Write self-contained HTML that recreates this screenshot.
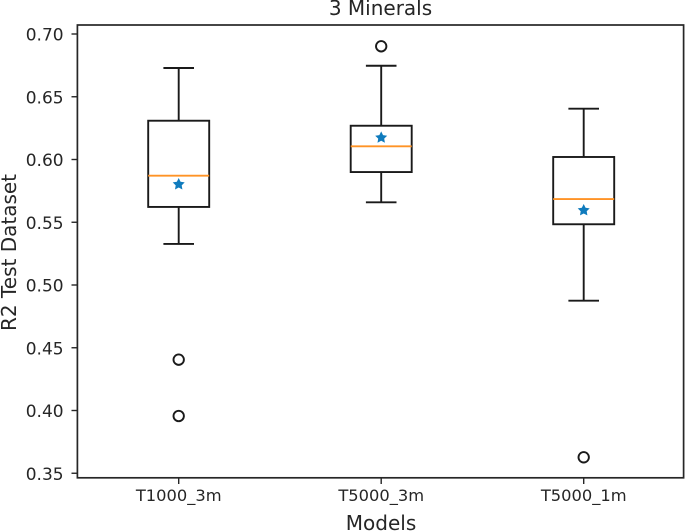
<!DOCTYPE html>
<html>
<head>
<meta charset="utf-8">
<style>
html,body{margin:0;padding:0;background:#fff;width:685px;height:531px;overflow:hidden}
svg{display:block;font-family:"DejaVu Sans","Liberation Sans",sans-serif;fill:#262626;filter:blur(0.35px)}
</style>
</head>
<body>
<svg id="chart" width="685" height="531" viewBox="0 0 685 531" xmlns="http://www.w3.org/2000/svg">
<text x="380.5" y="15" font-size="20" text-anchor="middle">3 Minerals</text>
<text x="381" y="530" font-size="20" text-anchor="middle">Models</text>
<text transform="translate(16 252.5) rotate(-90)" font-size="20" text-anchor="middle">R2 Test Dataset</text>
<g id="marks"></g>
<rect x="77.4" y="25" width="606.2" height="452.8" fill="none" stroke="#262626" stroke-width="1.7"/>
<g id="ticks"></g>
</svg>
<script>
const categories = ['T1000_3m', 'T5000_3m', 'T5000_1m'];
const whiskerLow = [0.5327, 0.5659, 0.4875];
const q1 = [0.5622, 0.5900, 0.5484];
const medians = [0.5871, 0.6105, 0.5685];
const q3 = [0.6309, 0.6269, 0.6020];
const whiskerHigh = [0.6729, 0.6747, 0.6405];
const means = [0.5802, 0.6174, 0.5595];
const outliers = [[0.4405, 0.3956], [0.6902], [0.3627]];
const yTickLabels = ['0.70', '0.65', '0.60', '0.55', '0.50', '0.45', '0.40', '0.35'];

const NS = 'http://www.w3.org/2000/svg';
const y = v => 34 + (0.70 - v) * 1255;
const x = i => 178.7 + i * 202.5;
const marks = document.getElementById('marks');
const ticks = document.getElementById('ticks');

function make(parent, tag, attrs) {
  const el = document.createElementNS(NS, tag);
  for (const k in attrs) el.setAttribute(k, attrs[k]);
  parent.appendChild(el);
  return el;
}
function line(parent, x1, y1, x2, y2, color, width) {
  return make(parent, 'line', { x1, y1, x2, y2, stroke: color, 'stroke-width': width });
}
function star(cx, cy, r) {
  let p = [];
  for (let k = 0; k < 10; k++) {
    const rad = k % 2 ? r * 0.5 : r;
    const a = -Math.PI / 2 + k * Math.PI / 5;
    p.push((cx + rad * Math.cos(a)).toFixed(2) + ',' + (cy + rad * Math.sin(a)).toFixed(2));
  }
  return p.join(' ');
}

categories.forEach((c, i) => {
  const g = make(marks, 'g', {});
  
  
  const cx = x(i);

  const lw = line(g, cx, y(q1[i]), cx, y(whiskerLow[i]), '#1a1a1a', 1.9);
  
  
  const uw = line(g, cx, y(q3[i]), cx, y(whiskerHigh[i]), '#1a1a1a', 1.9);
  
  
  const lc = line(g, cx - 15.3, y(whiskerLow[i]), cx + 15.3, y(whiskerLow[i]), '#1a1a1a', 1.9);
  
  
  const uc = line(g, cx - 15.3, y(whiskerHigh[i]), cx + 15.3, y(whiskerHigh[i]), '#1a1a1a', 1.9);
  
  

  const box = make(g, 'rect', { x: cx - 30.5, y: y(q3[i]), width: 61, height: y(q1[i]) - y(q3[i]), fill: 'none', stroke: '#1a1a1a', 'stroke-width': 1.9 });
  
  

  const med = line(g, cx - 30.5, y(medians[i]), cx + 30.5, y(medians[i]), '#ff9326', 1.9);
  
  

  const st = make(g, 'polygon', { points: star(cx, y(means[i]), 6.3), fill: '#0f7bbd' });
  
  

  outliers[i].forEach(v => {
    const o = make(g, 'circle', { cx, cy: y(v), r: 5.2, fill: 'none', stroke: '#1a1a1a', 'stroke-width': 1.9 });
    
    
  });

  const t = line(ticks, cx, 478, cx, 484, '#262626', 1.4);
  
  
  const lab = make(ticks, 'text', { x: cx, y: 501, 'font-size': 16.3, 'text-anchor': 'middle' });
  lab.textContent = c;
  
  
});

yTickLabels.forEach(s => {
  const v = parseFloat(s);
  const t = line(ticks, 71.5, y(v), 77, y(v), '#262626', 1.4);
  
  
  const lab = make(ticks, 'text', { x: 63.6, y: y(v) + 6.5, 'font-size': 17, 'text-anchor': 'end' });
  lab.textContent = s;
  
  
});
</script>
</body>
</html>
